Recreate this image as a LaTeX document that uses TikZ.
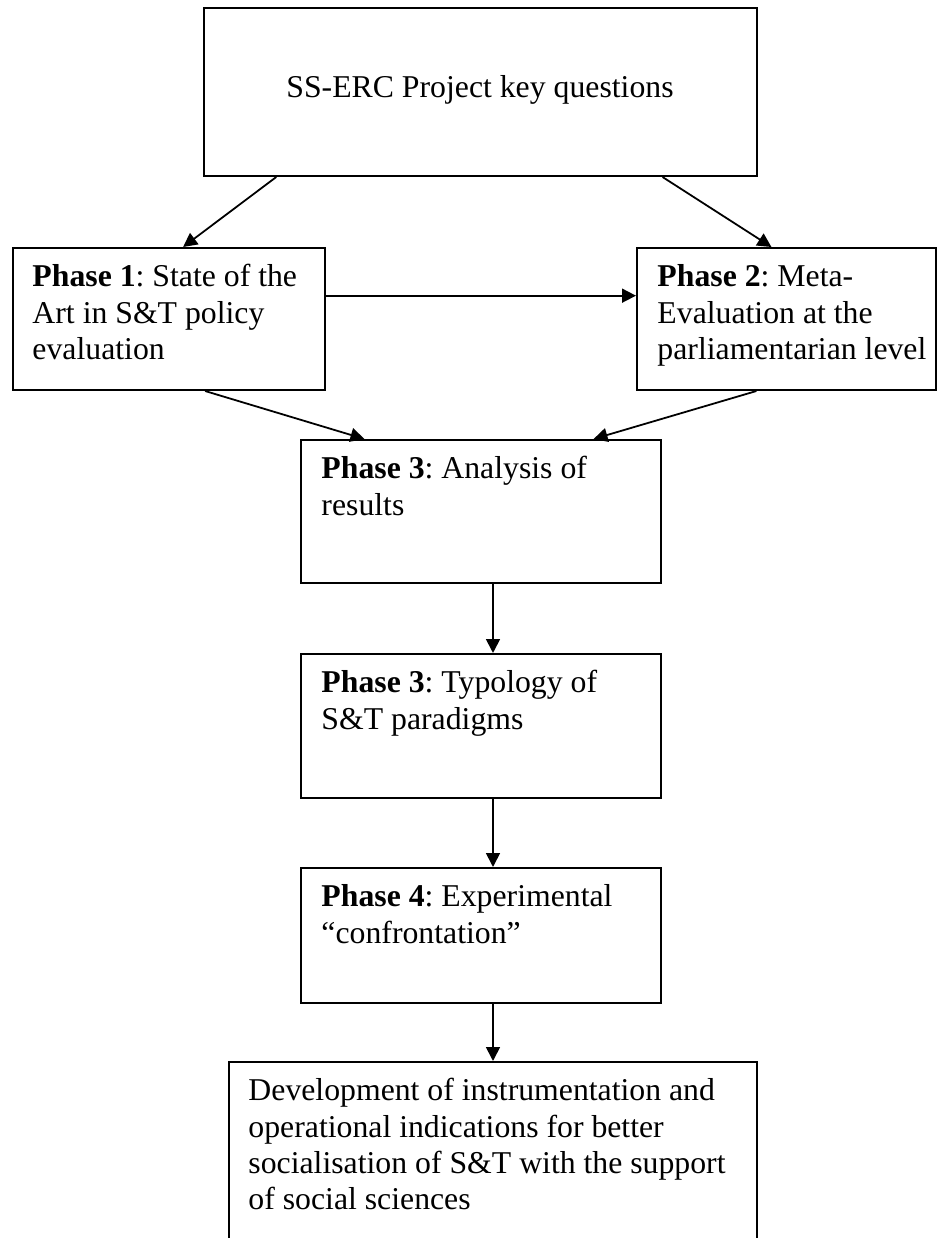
\documentclass[tikz,border=0pt]{standalone}
\usepackage{fontspec}
\setmainfont{Liberation Serif}
\usetikzlibrary{positioning, calc, fit, arrows.meta}
\frenchspacing

\begin{document}
\begin{tikzpicture}[x=0.3937pt, y=-0.3937pt,
    box/.style={draw, line width=0.8pt, inner sep=0pt},
    txt/.style={inner sep=0pt, font=\fontsize{12.5pt}{14.2pt}\selectfont},
    phasetxt/.style={txt, anchor=base west, align=flush left, text width=200pt},
    link/.style={->, >={Triangle[length=5.5pt, width=5.5pt]}, line width=0.7pt}]
  \useasboundingbox (0,0) rectangle (939,1238);

  % Boxes
  \node[box, fit={(204,8) (757,176)}] (key) {};
  \node[box, fit={(13,248) (325,390)}] (ph1) {};
  \node[box, fit={(637,248) (936,390)}] (ph2) {};
  \node[box, fit={(301,440) (661,583)}] (ph3) {};
  \node[box, fit={(301,654) (661,798)}] (typ) {};
  \node[box, fit={(301,868) (661,1003)}] (ph4) {};
  \node[box, fit={(229,1062) (757,1260)}] (dev) {};

  % Texts
  \node[txt, anchor=base] (keytext) at (480,97) {SS-ERC Project key questions};
  \node[phasetxt] (ph1text) at ($(ph1.north west)+(20,40)$) {\textbf{Phase 1}: State of the\\Art in S\&T policy\\evaluation};
  \node[phasetxt] (ph2text) at ($(ph2.north west)+(21,40)$) {\textbf{Phase 2}: Meta-\\Evaluation at the\\parliamentarian level};
  \node[phasetxt] (ph3text) at ($(ph3.north west)+(21,40)$) {\textbf{Phase 3}: Analysis of\\results};
  \node[phasetxt] (typtext) at ($(typ.north west)+(21,40)$) {\textbf{Phase 3}: Typology of\\S\&T paradigms};
  \node[phasetxt] (ph4text) at ($(ph4.north west)+(21,40)$) {\textbf{Phase 4}: Experimental\\“confrontation”};
  \node[phasetxt] (devtext) at ($(dev.north west)+(20,40)$) {Development of instrumentation and\\operational indications for better\\socialisation of S\&T with the support\\of social sciences};

  % Connections
  \coordinate (spine) at (493,0);
  \coordinate (ph1out) at ($(ph1.north east)!0.338!(ph1.south east)$);
  \draw[link] ($(key.south west)!0.132!(key.south east)$) -- ($(ph1.north west)!0.545!(ph1.north east)$);
  \draw[link] ($(key.south west)!0.828!(key.south east)$) -- ($(ph2.north west)!0.45!(ph2.north east)$);
  \draw[link] (ph1out) -- (ph1out -| ph2.west);
  \draw[link] ($(ph1.south west)!0.615!(ph1.south east)$) -- ($(ph3.north west)!0.178!(ph3.north east)$);
  \draw[link] ($(ph2.south west)!0.4!(ph2.south east)$) -- ($(ph3.north west)!0.811!(ph3.north east)$);
  \draw[link] (spine |- ph3.south) -- (spine |- typ.north);
  \draw[link] (spine |- typ.south) -- (spine |- ph4.north);
  \draw[link] (spine |- ph4.south) -- (spine |- dev.north);
\end{tikzpicture}
\end{document}
